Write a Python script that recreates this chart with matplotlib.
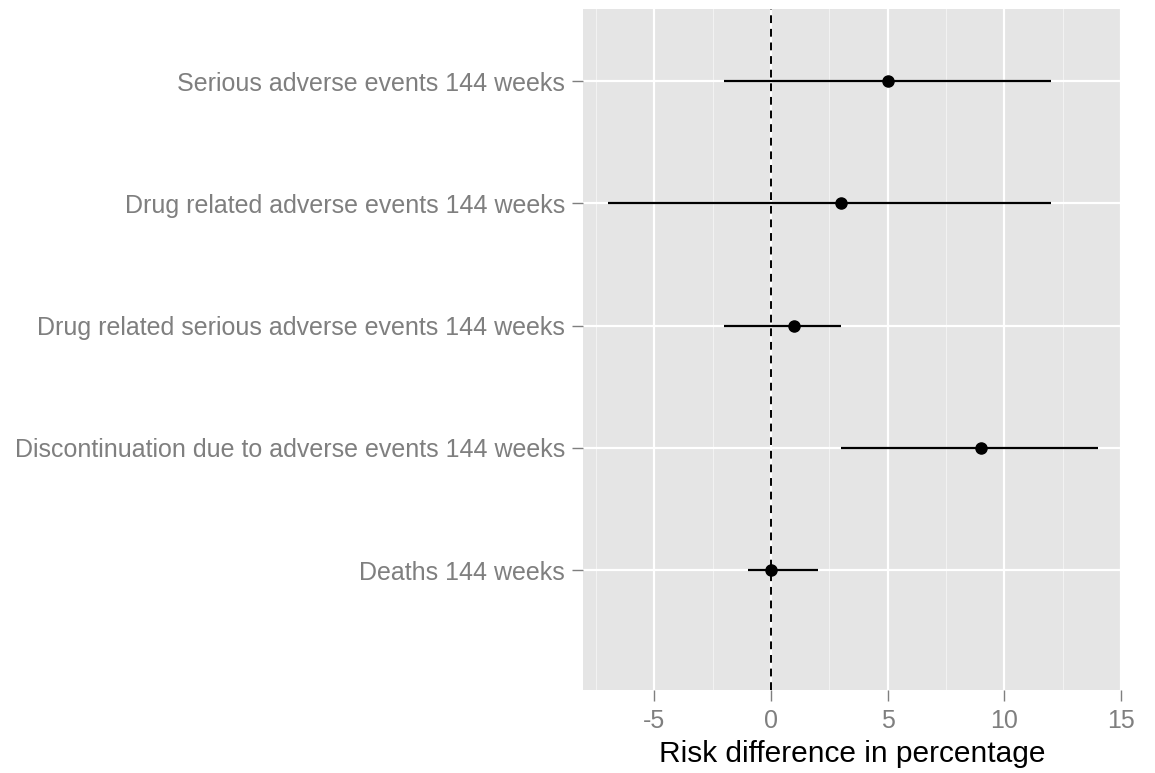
import numpy as np
import matplotlib.pyplot as plt
from matplotlib.ticker import MultipleLocator

plt.rcParams['font.family'] = ['Liberation Sans', 'DejaVu Sans']

# outcomes, top to bottom
outcomes = [
    "Serious adverse events 144 weeks",
    "Drug related adverse events 144 weeks",
    "Drug related serious adverse events 144 weeks",
    "Discontinuation due to adverse events 144 weeks",
    "Deaths 144 weeks",
]
risk_diff = [5, 3, 1, 9, 0]
ci_low = [-2, -7, -2, 3, -1]
ci_high = [12, 12, 3, 14, 2]

fig = plt.figure(figsize=(11.55, 7.73), dpi=100)
ax = fig.add_axes([583 / 1155, 1 - 690 / 773, (1122 - 583) / 1155, (690 - 9) / 773])

ax.set_facecolor('#E5E5E5')
for s in ax.spines.values():
    s.set_visible(False)

ypos = np.arange(len(outcomes))[::-1] + 1

ax.xaxis.set_major_locator(MultipleLocator(5))
ax.xaxis.set_minor_locator(MultipleLocator(2.5))
ax.grid(True, which='major', color='white', linewidth=1.6)
ax.grid(True, which='minor', axis='x', color='#F2F2F2', linewidth=0.8)
ax.set_axisbelow(True)

ax.axvline(0, color='black', linestyle=(0, (4, 3)), linewidth=1.4, zorder=2)
ax.hlines(ypos, ci_low, ci_high, color='black', linewidth=1.6, zorder=3)
ax.plot(risk_diff, ypos, 'o', color='black', markersize=8, zorder=4)

ax.set_xlim(-8.05, 15.05)
ax.set_ylim(0.02, 5.59)
ax.set_yticks(ypos)
ax.set_yticklabels(outcomes)
ax.set_xticks([-5, 0, 5, 10, 15])
ax.set_xticklabels(['-5', '0', '5', '10', '15'])

ax.tick_params(which='major', length=8, width=1.0, color='#7F7F7F',
               labelcolor='#7F7F7F', labelsize=18)
ax.tick_params(axis='y', pad=5)
ax.tick_params(axis='x', pad=6)
ax.tick_params(which='minor', length=0)

ax.set_xlabel('Risk difference in percentage', fontsize=21.5, color='black', labelpad=5)

fig.savefig('out.png', dpi=100)
